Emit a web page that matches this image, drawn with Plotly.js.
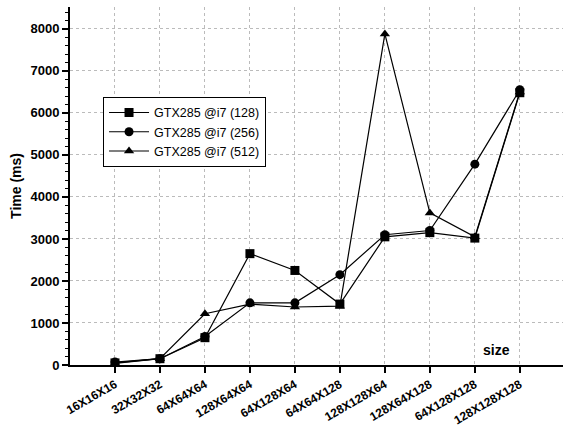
<!DOCTYPE html>
<html><head><meta charset="utf-8">
<script src="https://cdn.plot.ly/plotly-3.0.1.min.js"></script>
<style>html,body{margin:0;padding:0;background:#fff;}#chart{width:563px;height:427px;}</style>
</head><body><div id="chart"></div>
<script>
const categories = ["16X16X16","32X32X32","64X64X64","128X64X64","64X128X64","64X64X128","128X128X64","128X64X128","64X128X128","128X128X128"];
const seriesNames = ["GTX285 @i7 (128)","GTX285 @i7 (256)","GTX285 @i7 (512)"];
const s128 = [50, 150, 650, 2650, 2250, 1450, 3050, 3150, 3020, 6480];
const s256 = [70, 150, 680, 1480, 1480, 2150, 3100, 3200, 4780, 6550];
const s512 = [40, 150, 1220, 1450, 1380, 1400, 7880, 3620, 3050, 6500];
const yTicks = [0,1000,2000,3000,4000,5000,6000,7000,8000];

const font = {family: "Liberation Sans, Arial, sans-serif", color: "#000"};
const symbols = ["square","circle","triangle-up"];
const data = [s128, s256, s512].map((ys, i) => ({
  type: "scatter", mode: "lines+markers", name: seriesNames[i],
  x: categories.map((c, k) => k), y: ys,
  line: {color: "#000", width: 1.2},
  marker: {symbol: symbols[i], size: 9, color: "#000"}
}));

const layout = {
  width: 563, height: 427,
  margin: {l: 70, r: 0, t: 7, b: 62},
  paper_bgcolor: "#fff", plot_bgcolor: "#fff",
  showlegend: true,
  legend: {x: 0.067, y: 0.749, xanchor: "left", yanchor: "top",
    bordercolor: "#000", borderwidth: 1, bgcolor: "#fff",
    font: Object.assign({size: 12.5}, font), tracegroupgap: 0, itemwidth: 40},
  xaxis: {
    range: [-1, 9.96],
    tickvals: categories.map((c, k) => k), ticktext: categories,
    tickangle: -30, tickfont: Object.assign({size: 12, weight: "bold"}, font),
    ticks: "outside", ticklen: 6, tickwidth: 2, tickcolor: "#000",
    showline: true, linecolor: "#000", linewidth: 2,
    showgrid: true, gridcolor: "#bbb", griddash: "dot", gridwidth: 1,
    zeroline: false, fixedrange: true
  },
  yaxis: {
    range: [0, 8520],
    tickvals: yTicks, ticktext: yTicks.map(String),
    tickfont: Object.assign({size: 13, weight: "bold"}, font),
    ticks: "outside", ticklen: 6, tickwidth: 2, tickcolor: "#000",
    minor: {dtick: 200, ticks: "outside", ticklen: 3, tickcolor: "#000", tickwidth: 1, showgrid: false},
    showline: true, linecolor: "#000", linewidth: 2,
    showgrid: true, gridcolor: "#bbb", griddash: "dot", gridwidth: 1,
    zeroline: false, fixedrange: true,
    title: {text: "Time (ms)", font: Object.assign({size: 14, weight: "bold"}, font), standoff: 6}
  },
  annotations: [{
    x: 8.49, y: 357, xref: "x", yref: "y", text: "size", showarrow: false,
    font: Object.assign({size: 14, weight: "bold"}, font)
  }]
};
Plotly.newPlot("chart", data, layout, {displayModeBar: false, staticPlot: true});
</script></body></html>
